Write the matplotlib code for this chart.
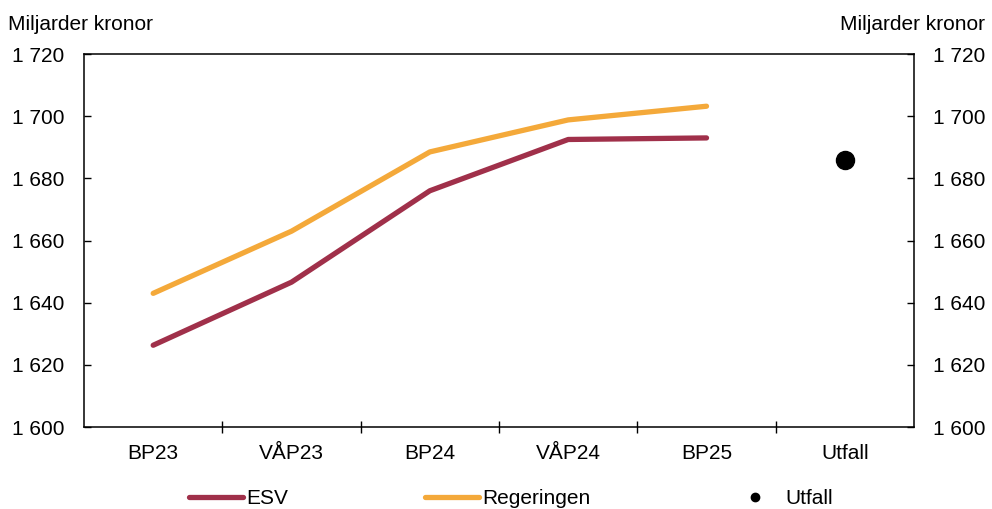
import numpy as np
import matplotlib
matplotlib.use('Agg')
import matplotlib.pyplot as plt
from matplotlib.lines import Line2D
from matplotlib.ticker import FuncFormatter, FixedLocator

plt.rcParams['font.family'] = ['Liberation Sans', 'DejaVu Sans']

# ─── Données ─────────────────────────────────────────────────────────────
categories = ["BP23", "VÅP23", "BP24", "VÅP24", "BP25", "Utfall"]
esv        = [1626.3, 1646.6, 1676.0, 1692.5, 1693.0]
regeringen = [1643.0, 1663.0, 1688.5, 1698.8, 1703.2]
utfall     = 1686.0
yticks     = [1600, 1620, 1640, 1660, 1680, 1700, 1720]

ESV_COLOR = "#A0304A"
REG_COLOR = "#F4A93A"
FS = 15

fig = plt.figure(figsize=(9.92, 5.09), dpi=100)
ax = fig.add_axes([0.0847, 0.1611, 0.8367, 0.7328])

x = np.arange(len(categories))
ax.plot(x[:len(esv)], esv, color=ESV_COLOR, linewidth=3.8, solid_capstyle="round", label="ESV")
ax.plot(x[:len(regeringen)], regeringen, color=REG_COLOR, linewidth=3.8, solid_capstyle="round", label="Regeringen")
ax.plot([x[-1]], [utfall], "o", color="black", markersize=13, label="Utfall")

ax.set_xlim(-0.5, len(categories) - 0.5)
ax.set_ylim(1600, 1720)
ax.set_yticks(yticks)
fmt = FuncFormatter(lambda v, p: f"{int(v):,}".replace(",", " "))
ax.yaxis.set_major_formatter(fmt)
ax.tick_params(axis="y", direction="in", length=5, width=1, labelsize=FS, pad=14,
               left=True, right=True, labelleft=True, labelright=True)

ax.set_xticks(x)
ax.set_xticklabels(categories)
ax.tick_params(axis="x", which="major", length=0, labelsize=FS, pad=12)
ax.xaxis.set_minor_locator(FixedLocator(np.arange(0.5, len(categories) - 0.5, 1)))
ax.tick_params(axis="x", which="minor", direction="inout", length=9, width=1)

for s in ax.spines.values():
    s.set_linewidth(1.1)

fig.text(0.008, 0.952, "Miljarder kronor", fontsize=FS, ha="left", va="center")
fig.text(0.993, 0.952, "Miljarder kronor", fontsize=FS, ha="right", va="center")

handles = [
    Line2D([], [], color=ESV_COLOR, linewidth=3.8, solid_capstyle="round"),
    Line2D([], [], color=REG_COLOR, linewidth=3.8, solid_capstyle="round"),
    Line2D([], [], marker="o", color="black", linestyle="none", markersize=6),
]
fig.legend(handles, ["ESV", "Regeringen", "Utfall"], loc="center", bbox_to_anchor=(0.515, 0.02),
           ncol=3, frameon=False, fontsize=FS, handlelength=2.6, handletextpad=0.15,
           columnspacing=6.6, borderaxespad=0)

plt.savefig("out.png", dpi=100)
plt.close()
